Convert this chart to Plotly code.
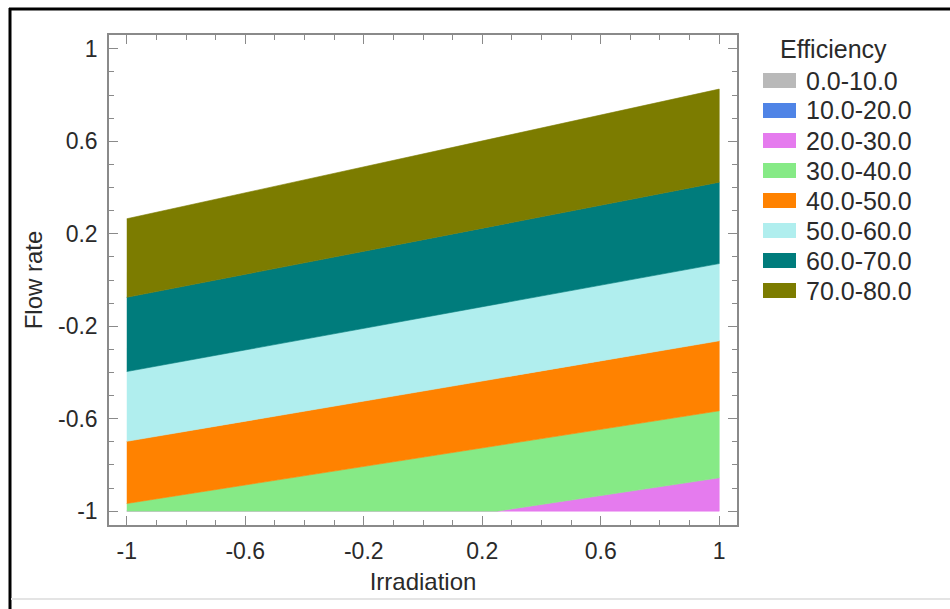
import plotly.graph_objects as go

# ---- data ----
band_labels = ["0.0-10.0", "10.0-20.0", "20.0-30.0", "30.0-40.0",
               "40.0-50.0", "50.0-60.0", "60.0-70.0", "70.0-80.0"]
band_colors = ["#b9b9b9", "#4f84e6", "#e57bee", "#86ea86",
               "#ff8200", "#b0eeee", "#007c7c", "#7c7c00"]

# contour boundary lines (efficiency level -> flow rate at irradiation -1 and +1)
levels = [30, 40, 50, 60, 70, 80]
flow_at_left = [-1.24, -0.967, -0.698, -0.396, -0.075, 0.265]
flow_at_right = [-0.856, -0.566, -0.263, 0.071, 0.423, 0.826]

x_ticks = [-1, -0.6, -0.2, 0.2, 0.6, 1]
x_ticktext = ["-1", "-0.6", "-0.2", "0.2", "0.6", "1"]
y_ticks = [-1, -0.6, -0.2, 0.2, 0.6, 1]
y_ticktext = ["-1", "-0.6", "-0.2", "0.2", "0.6", "1"]

X0, X1 = -1.0, 1.0
Y0, Y1 = -1.0, 1.0


def line_fn(i):
    a, b = flow_at_left[i], flow_at_right[i]
    return lambda x: a + (b - a) * (x - X0) / (X1 - X0)


def crossings(i):
    a, b = flow_at_left[i], flow_at_right[i]
    out = []
    for yv in (Y0, Y1):
        if (a - yv) * (b - yv) < 0:
            out.append(X0 + (yv - a) / (b - a) * (X1 - X0))
    return out


def band_polygon(lo_idx, hi_idx):
    lo = line_fn(lo_idx) if lo_idx is not None else (lambda x: Y0)
    hi = line_fn(hi_idx)
    xs = {X0, X1}
    for idx in (lo_idx, hi_idx):
        if idx is not None:
            xs.update(crossings(idx))
    xs = sorted(xs)
    clip = lambda v: min(max(v, Y0), Y1)
    upper = [clip(hi(x)) for x in xs]
    lower = [clip(lo(x)) for x in xs]
    px = xs + xs[::-1]
    py = upper + lower[::-1]
    return px, py


fig = go.Figure()

# band "20-30" (k=2) -> upper level 30 (idx 0), lower = floor of the domain
for k in range(2, len(band_labels)):
    hi_idx = k - 2
    lo_idx = hi_idx - 1 if hi_idx - 1 >= 0 else None
    px, py = band_polygon(lo_idx, hi_idx)
    fig.add_trace(go.Scatter(
        x=px, y=py, fill="toself", mode="lines",
        line=dict(width=0.6, color=band_colors[k]),
        fillcolor=band_colors[k], name=band_labels[k],
        showlegend=False, hoverinfo="name"))

# ---- layout geometry (pixels) ----
W, H = 950, 609
L, R, T, B = 109, 737, 35, 525
pw, ph = R - L, B - T


def px2x(p):
    return (p - L) / pw


def py2y(p):
    return (B - p) / ph


font_family = "Liberation Sans, Arial, sans-serif"
text_color = "#2a2a2a"
axis_color = "#8a8a8a"
tick_size = 23
title_size = 24
legend_size = 25

axis_common = dict(
    showgrid=False, zeroline=False, showline=True, linecolor=axis_color,
    linewidth=1.5, mirror="ticks", ticks="inside", ticklen=9, tickwidth=1.2,
    tickcolor=axis_color,
    minor=dict(ticks="inside", ticklen=5, dtick=0.1, tickcolor=axis_color,
               tickwidth=1, showgrid=False),
    tickfont=dict(size=tick_size, color=text_color, family=font_family),
    range=[-1.06, 1.06],
)

fig.update_layout(
    width=W, height=H,
    margin=dict(l=L, r=W - R, t=T, b=H - B),
    paper_bgcolor="white", plot_bgcolor="white",
    font=dict(family=font_family, color=text_color, size=tick_size),
    xaxis=dict(**axis_common, tickmode="array", tickvals=x_ticks,
               ticktext=x_ticktext, ticklabelstandoff=5,
               title=dict(text="Irradiation", font=dict(size=title_size),
                          standoff=10)),
    yaxis=dict(**axis_common, tickmode="array", tickvals=y_ticks,
               ticktext=y_ticktext, ticklabelstandoff=5,
               title=dict(text="Flow rate", font=dict(size=title_size),
                          standoff=9)),
    showlegend=False,
)

# ---- manual legend ----
fig.add_annotation(x=px2x(778), y=py2y(49), xref="paper", yref="paper",
                   text="Efficiency", showarrow=False, xanchor="left",
                   yanchor="middle", font=dict(size=legend_size, color=text_color))
for i, (lab, col) in enumerate(zip(band_labels, band_colors)):
    cy = 80.5 + 30 * i
    fig.add_shape(type="rect", xref="paper", yref="paper",
                  x0=px2x(763), x1=px2x(796), y0=py2y(cy + 7.5),
                  y1=py2y(cy - 7.5), fillcolor=col, line=dict(width=0))
    fig.add_annotation(x=px2x(804), y=py2y(cy), xref="paper", yref="paper",
                       text=lab, showarrow=False, xanchor="left",
                       yanchor="middle",
                       font=dict(size=legend_size, color=text_color))

# ---- outer frame ----
fig.add_shape(type="line", xref="paper", yref="paper",
              x0=px2x(9), x1=px2x(960), y0=py2y(9), y1=py2y(9),
              line=dict(color="black", width=3))
fig.add_shape(type="line", xref="paper", yref="paper",
              x0=px2x(10), x1=px2x(10), y0=py2y(8), y1=py2y(615),
              line=dict(color="black", width=3))
fig.add_shape(type="line", xref="paper", yref="paper",
              x0=px2x(11), x1=px2x(960), y0=py2y(599), y1=py2y(599),
              line=dict(color="#e4e4e4", width=2))

fig.write_html("out.html")
